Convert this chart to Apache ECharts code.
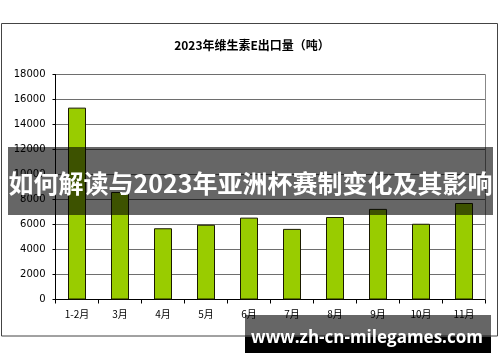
<!DOCTYPE html>
<html>
<head>
<meta charset="utf-8">
<script src="https://cdn.jsdelivr.net/npm/echarts@6/dist/echarts.min.js"></script>
<style>
html,body{margin:0;padding:0;background:#fff;}
#c{width:500px;height:362px;}
</style>
</head>
<body>
<div id="c"></div>
<script>
const titleText = '2023年维生素E出口量（吨）';
const categories = ['1-2月','3月','4月','5月','6月','7月','8月','9月','10月','11月'];
const exportVolume = [15350, 8600, 5700, 5980, 6550, 5650, 6600, 7250, 6060, 7720];
const yTicks = {min: 0, max: 18000, interval: 2000};
const bannerText = '如何解读与2023年亚洲杯赛制变化及其影响';
const watermarkText = 'www.zh-cn-milegames.com';

const chart = echarts.init(document.getElementById('c'), null, {renderer: 'canvas'});
const cjk = '"Noto Sans CJK SC", "DejaVu Sans", sans-serif';
chart.setOption({
  animation: false,
  backgroundColor: '#fff',
  title: {
    text: titleText,
    left: 247, top: 34, textAlign: 'center',
    textStyle: {fontFamily: cjk, fontSize: 12, fontWeight: 'bold', color: '#000'}
  },
  grid: {left: 55.5, right: 14.5, top: 74.5, bottom: 62.5, containLabel: false},
  xAxis: {
    type: 'category', data: categories, boundaryGap: true,
    axisLine: {lineStyle: {color: '#000', width: 1}},
    axisTick: {show: true, length: 4, inside: false, lineStyle: {color: '#000'}},
    axisLabel: {fontFamily: cjk, fontSize: 10, color: '#000', margin: 10}
  },
  yAxis: {
    type: 'value', min: yTicks.min, max: yTicks.max, interval: yTicks.interval,
    axisLine: {show: true, lineStyle: {color: '#000', width: 1}},
    axisTick: {show: true, length: 3, lineStyle: {color: '#000'}},
    axisLabel: {fontFamily: '"DejaVu Sans", sans-serif', fontSize: 10, color: '#000', margin: 10,
      formatter: function (v) { return String(v); }},
    splitLine: {show: true, lineStyle: {color: '#6e6e6e', width: 1}}
  },
  series: [{
    type: 'bar', data: exportVolume, barWidth: 18,
    itemStyle: {color: '#99cc00', borderColor: '#1a1a00', borderWidth: 1}
  }],
  graphic: [
    {type: 'rect', shape: {x: 1.5, y: 23.5, width: 496, height: 312.5}, style: {fill: 'none', stroke: '#444', lineWidth: 1}, z: 1},
    {type: 'line', shape: {x1: 485.5, y1: 74.5, x2: 485.5, y2: 299.5}, style: {stroke: '#888', lineWidth: 1}, z: 1},
    {type: 'rect', shape: {x: 8, y: 147, width: 485, height: 68}, style: {fill: 'rgba(0,0,0,0.6)'}, z: 100},
    {type: 'text', x: 250.5, y: 183, style: {text: bannerText, fill: '#fff', font: 'bold 25px "Noto Sans CJK SC", sans-serif', textAlign: 'center', textVerticalAlign: 'middle'}, z: 101},
    {type: 'rect', shape: {x: 245, y: 315, width: 246, height: 21.5}, style: {fill: 'rgba(0,0,0,0.6)'}, z: 100},
    {type: 'rect', shape: {x: 245, y: 336.5, width: 246, height: 16.5}, style: {fill: '#000'}, z: 100},
    {type: 'text', x: 367, y: 338, style: {text: watermarkText, fill: '#fff', font: 'bold 17px "Open Sans", sans-serif', textAlign: 'center', textVerticalAlign: 'middle'}, z: 101}
  ]
});
</script>
</body>
</html>
